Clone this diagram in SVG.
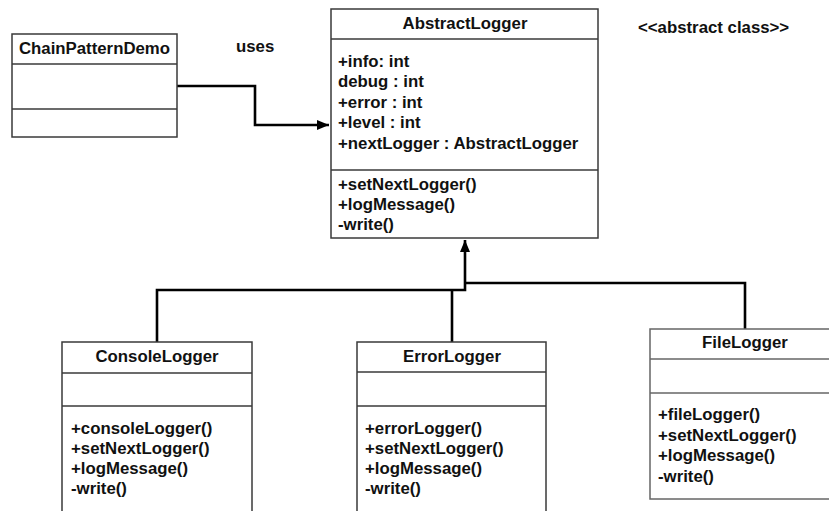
<svg xmlns="http://www.w3.org/2000/svg" width="829" height="511" viewBox="0 0 829 511">
<defs>
<style>
.box{fill:#fff;stroke:#3a3a3a;stroke-width:1.5}
.div{stroke:#3a3a3a;stroke-width:1.5}
.t{font-family:"Liberation Sans",Arial,sans-serif;font-weight:bold;font-size:16.8px;fill:#111}
.c{text-anchor:middle}
.conn{fill:none;stroke:#000;stroke-width:2.6}
</style>
<marker id="arr" markerWidth="12" markerHeight="10" refX="12" refY="5" orient="auto" markerUnits="userSpaceOnUse">
<path d="M0,0 L12,5 L0,10 Z" fill="#000"/>
</marker>
</defs>
<rect width="829" height="511" fill="#fff"/>

<g id="connectors">
<path class="conn" d="M177,86 H255 V125 H329" marker-end="url(#arr)"/>
<path class="conn" d="M157,342 V290 H465 V240" marker-end="url(#arr)"/>
<path class="conn" d="M452,342 V290"/>
<path class="conn" d="M745,329 V283 H465"/>
</g>

<text class="t" x="236" y="52">uses</text>
<text class="t" x="638" y="33">&lt;&lt;abstract class&gt;&gt;</text>

<g id="ChainPatternDemo">
<rect class="box" x="12" y="34" width="165" height="103"/>
<line class="div" x1="12" y1="64" x2="177" y2="64"/>
<line class="div" x1="12" y1="109" x2="177" y2="109"/>
<text class="t c" x="94.5" y="54">ChainPatternDemo</text>
</g>

<g id="AbstractLogger">
<rect class="box" x="331" y="9" width="267" height="229"/>
<line class="div" x1="331" y1="39" x2="598" y2="39"/>
<line class="div" x1="331" y1="170" x2="598" y2="170"/>
<text class="t c" x="465" y="29">AbstractLogger</text>
<text class="t" x="338" y="67">+info: int</text>
<text class="t" x="338" y="87">debug : int</text>
<text class="t" x="338" y="108">+error : int</text>
<text class="t" x="338" y="128">+level : int</text>
<text class="t" x="338" y="149">+nextLogger : AbstractLogger</text>
<text class="t" x="338" y="190">+setNextLogger()</text>
<text class="t" x="338" y="210">+logMessage()</text>
<text class="t" x="338" y="230">-write()</text>
</g>

<g id="ConsoleLogger">
<rect class="box" x="62" y="342" width="190" height="190"/>
<line class="div" x1="62" y1="373" x2="252" y2="373"/>
<line class="div" x1="62" y1="406" x2="252" y2="406"/>
<text class="t c" x="157" y="362">ConsoleLogger</text>
<text class="t" x="71" y="434">+consoleLogger()</text>
<text class="t" x="71" y="454">+setNextLogger()</text>
<text class="t" x="71" y="474">+logMessage()</text>
<text class="t" x="71" y="494">-write()</text>
</g>

<g id="ErrorLogger">
<rect class="box" x="357" y="342" width="189" height="190"/>
<line class="div" x1="357" y1="372" x2="546" y2="372"/>
<line class="div" x1="357" y1="406" x2="546" y2="406"/>
<text class="t c" x="452" y="362">ErrorLogger</text>
<text class="t" x="365" y="434">+errorLogger()</text>
<text class="t" x="365" y="454">+setNextLogger()</text>
<text class="t" x="365" y="474">+logMessage()</text>
<text class="t" x="365" y="494">-write()</text>
</g>

<g id="FileLogger">
<rect class="box" x="650" y="329" width="190" height="170" style="stroke:#666"/>
<line class="div" x1="650" y1="359" x2="840" y2="359" style="stroke:#666"/>
<line class="div" x1="650" y1="393" x2="840" y2="393" style="stroke:#666"/>
<text class="t c" x="745" y="348">FileLogger</text>
<text class="t" x="658" y="420">+fileLogger()</text>
<text class="t" x="658" y="441">+setNextLogger()</text>
<text class="t" x="658" y="461">+logMessage()</text>
<text class="t" x="658" y="482">-write()</text>
</g>
</svg>
